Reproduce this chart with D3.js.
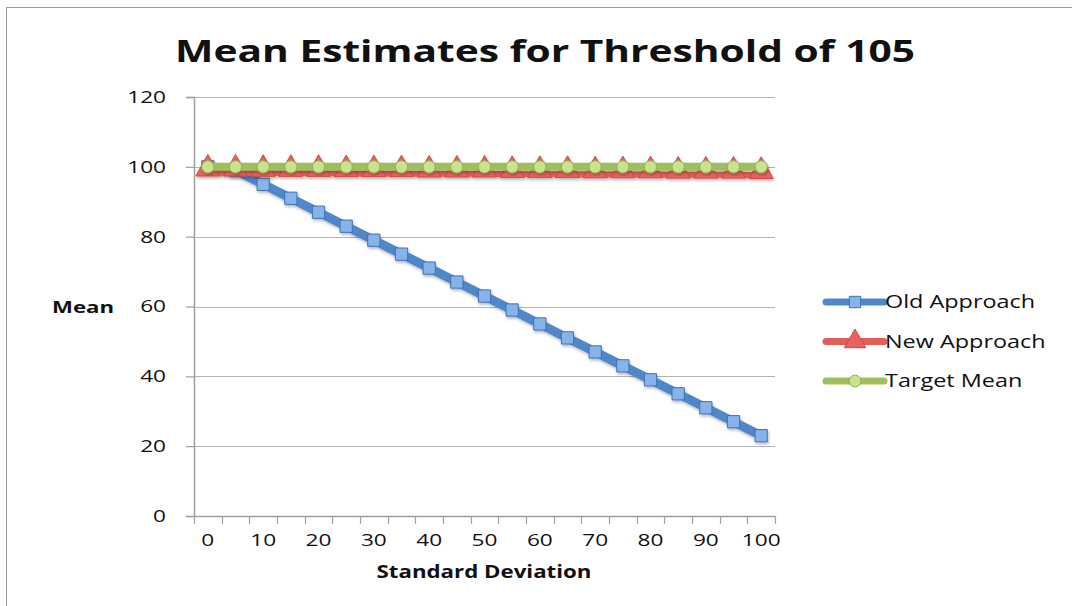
<!DOCTYPE html>
<html>
<head>
<meta charset="utf-8">
<script src="https://cdn.jsdelivr.net/npm/d3@7"></script>
<style>
  body { margin: 0; background: #fff; }
  text { font-family: "Open Sans", sans-serif; fill: #111; }
</style>
</head>
<body>
<div id="chart"></div>
<script>
const width = 1072, height = 606;
const margin = { top: 97, right: 297, bottom: 90, left: 194 };
const innerWidth = width - margin.left - margin.right;
const innerHeight = height - margin.top - margin.bottom;

// standard deviation categories
const sdCats = [0, 5, 10, 15, 20, 25, 30, 35, 40, 45, 50, 55, 60, 65, 70, 75, 80, 85, 90, 95, 100];
const xLabels = [0, 10, 20, 30, 40, 50, 60, 70, 80, 90, 100];
const yTicks = [0, 20, 40, 60, 80, 100, 120];

const oldApproach = [100, 99, 95, 91, 87, 83, 79, 75, 71, 67, 63, 59, 55, 51, 47, 43, 39, 35, 31, 27, 23];
const newApproach = [98.3, 98.3, 98.2, 98.2, 98.2, 98.1, 98.1, 98.1, 98.0, 98.0, 98.0, 97.9, 97.9, 97.9, 97.8, 97.8, 97.8, 97.7, 97.7, 97.7, 97.6];
const targetMean = [100, 100, 100, 100, 100, 100, 100, 100, 100, 100, 100, 100, 100, 100, 100, 100, 100, 100, 100, 100, 100];

const seriesNames = ['Old Approach', 'New Approach', 'Target Mean'];

// the office triangle marker sits mostly above its point
const raisedTriangle = {
    draw(context, size) {
        const w = Math.sqrt(size * 1.15);
        const h = w * 0.9;
        context.moveTo(0, -h * 0.85);
        context.lineTo(w / 2, h * 0.15);
        context.lineTo(-w / 2, h * 0.15);
        context.closePath();
    }
};

const series = [
    { name: seriesNames[0], values: oldApproach, line: '#4f87c9', fill: '#86b3ea', stroke: '#3f72b5', marker: 'square', width: 9 },
    { name: seriesNames[1], values: newApproach, line: '#de5f5b', fill: '#e8625e', stroke: '#d04844', marker: 'triangle', width: 6 },
    { name: seriesNames[2], values: targetMean, line: '#9fbf5f', fill: '#c8e28e', stroke: '#8fb04c', marker: 'circle', width: 8 }
];

const symbolFor = {
    square: d3.symbol().type(d3.symbolSquare).size(150),
    triangle: d3.symbol().type(raisedTriangle).size(500),
    circle: d3.symbol().type(d3.symbolCircle).size(120)
};
const legendSymbol = {
    square: d3.symbol().type(d3.symbolSquare).size(130),
    triangle: d3.symbol().type(d3.symbolTriangle).size(200),
    circle: d3.symbol().type(d3.symbolCircle).size(110)
};

// the reference text is stretched sideways
const stretch = (sel, factor) => sel.each(function () {
    const len = this.getComputedTextLength();
    d3.select(this)
        .attr('textLength', len * factor)
        .attr('lengthAdjust', 'spacingAndGlyphs');
});
const fitTo = (sel, target) => sel
    .attr('textLength', target)
    .attr('lengthAdjust', 'spacingAndGlyphs');

const svg = d3.select('#chart')
    .append('svg')
    .attr('width', width)
    .attr('height', height);

const defs = svg.append('defs');
const shadow = defs.append('filter').attr('id', 'shadow')
    .attr('x', '-20%').attr('y', '-20%').attr('width', '140%').attr('height', '140%');
shadow.append('feDropShadow')
    .attr('dx', 1).attr('dy', 2).attr('stdDeviation', 1.5)
    .attr('flood-color', '#000').attr('flood-opacity', 0.28);

// outer frame
svg.append('rect')
    .attr('x', 6.5).attr('y', 7.5)
    .attr('width', width).attr('height', height)
    .attr('fill', 'none')
    .attr('stroke', '#9a9a9a');

const chart = svg.append('g')
    .attr('transform', `translate(${margin.left},${margin.top})`);

const xScale = d3.scaleBand()
    .domain(sdCats)
    .range([0, innerWidth]);

const yScale = d3.scaleLinear()
    .domain([0, 120])
    .range([innerHeight, 0]);

// gridlines
chart.append('g')
    .selectAll('line')
    .data(yTicks.filter(d => d > 0))
    .join('line')
        .attr('x1', 0)
        .attr('x2', innerWidth)
        .attr('y1', d => Math.round(yScale(d)) + 0.5)
        .attr('y2', d => Math.round(yScale(d)) + 0.5)
        .attr('stroke', '#b4b4b4')
        .attr('stroke-width', 1.2);

// y axis
const leftAxis = d3.axisLeft(yScale)
    .tickValues(yTicks)
    .tickSize(8)
    .tickPadding(20);
const yAxisG = chart.append('g').call(leftAxis);
yAxisG.select('.domain').attr('stroke', '#a0a0a0').attr('stroke-width', 1.5);
yAxisG.selectAll('.tick line').attr('stroke', '#a0a0a0').attr('stroke-width', 1.2);
yAxisG.selectAll('.tick text')
    .attr('font-size', 17)
    .attr('font-family', '"Open Sans", sans-serif')
    .attr('fill', '#111')
    .call(stretch, 1.33);

// x axis baseline and ticks between categories
const xAxisG = chart.append('g')
    .attr('transform', `translate(0, ${innerHeight})`);
xAxisG.append('line')
    .attr('x1', 0).attr('x2', innerWidth)
    .attr('y1', 0.5).attr('y2', 0.5)
    .attr('stroke', '#a0a0a0')
    .attr('stroke-width', 1.5);
const tickPos = sdCats.map(d => xScale(d)).concat([xScale.range()[1]]);
xAxisG.selectAll('.xtick')
    .data(tickPos)
    .join('line')
        .attr('class', 'xtick')
        .attr('x1', d => Math.round(d) + 0.5)
        .attr('x2', d => Math.round(d) + 0.5)
        .attr('y1', 0)
        .attr('y2', 8)
        .attr('stroke', '#a0a0a0')
        .attr('stroke-width', 1.2);

const bottomAxis = d3.axisBottom(xScale)
    .tickValues(xLabels)
    .tickSize(0)
    .tickPadding(18);
const xLabelG = chart.append('g')
    .attr('transform', `translate(0, ${innerHeight})`)
    .call(bottomAxis);
xLabelG.select('.domain').remove();
xLabelG.selectAll('.tick text')
    .attr('font-size', 17)
    .attr('font-family', '"Open Sans", sans-serif')
    .attr('fill', '#111')
    .call(stretch, 1.33);

// lines
const lineGen = d3.line()
    .x((d, i) => xScale(sdCats[i]) + xScale.bandwidth() / 2)
    .y(d => yScale(d));

series.forEach(s => {
    const g = chart.append('g').attr('filter', 'url(#shadow)');
    g.append('path')
        .datum(s.values)
        .attr('d', lineGen)
        .attr('fill', 'none')
        .attr('stroke', s.line)
        .attr('stroke-width', s.width)
        .attr('stroke-linejoin', 'round');
    g.selectAll('path.marker')
        .data(s.values)
        .join('path')
            .attr('class', 'marker')
            .attr('d', symbolFor[s.marker])
            .attr('transform', (d, i) => `translate(${xScale(sdCats[i]) + xScale.bandwidth() / 2},${yScale(d)})`)
            .attr('fill', s.fill)
            .attr('stroke', s.stroke)
            .attr('stroke-width', 1);
});

// legend
const legend = svg.append('g')
    .attr('transform', 'translate(826, 302)');
const legendItems = legend.selectAll('g')
    .data(series)
    .join('g')
        .attr('transform', (d, i) => `translate(0, ${i * 39.5})`);
legendItems.append('line')
    .attr('x1', 0).attr('x2', 58)
    .attr('y1', 0).attr('y2', 0)
    .attr('stroke', d => d.line)
    .attr('stroke-width', 7)
    .attr('stroke-linecap', 'round');
legendItems.append('path')
    .attr('d', d => legendSymbol[d.marker]())
    .attr('transform', 'translate(29,0)')
    .attr('fill', d => d.fill)
    .attr('stroke', d => d.stroke);
legendItems.append('text')
    .attr('x', 59)
    .attr('y', 0)
    .attr('dy', '0.36em')
    .attr('font-size', 18)
    .text(d => d.name)
    .call(stretch, 1.3);

// title and axis labels
svg.append('text')
    .text('Mean Estimates for Threshold of 105')
    .attr('x', 545)
    .attr('y', 62)
    .attr('text-anchor', 'middle')
    .attr('font-size', 31)
    .attr('font-weight', 'bold')
    .call(fitTo, 740);

svg.append('text')
    .text('Mean')
    .attr('x', 83)
    .attr('y', 313)
    .attr('text-anchor', 'middle')
    .attr('font-size', 16)
    .attr('font-weight', 'bold')
    .call(fitTo, 62);

svg.append('text')
    .text('Standard Deviation')
    .attr('x', 484)
    .attr('y', 578)
    .attr('text-anchor', 'middle')
    .attr('font-size', 17)
    .attr('font-weight', 'bold')
    .call(fitTo, 215);
</script>
</body>
</html>
